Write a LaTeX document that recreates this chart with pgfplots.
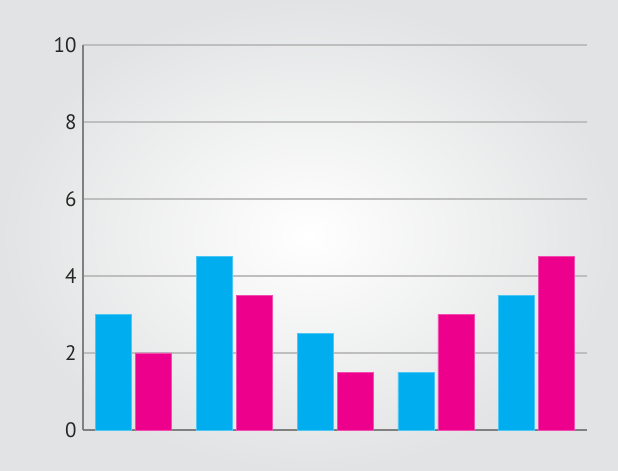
\documentclass[border=0pt]{standalone}
\usepackage{pgfplots}
\pgfplotsset{compat=1.18}
\usepackage{fontspec}
\setmainfont{PT Sans}
\definecolor{cy}{RGB}{0,174,239}
\definecolor{mg}{RGB}{236,0,140}
\definecolor{bgout}{RGB}{226,227,228}
\definecolor{gridc}{RGB}{190,190,190}
\definecolor{axc}{RGB}{128,128,128}
\begin{document}
\begin{tikzpicture}[x=1bp,y=1bp]
\shade[inner color=white, outer color=bgout] (-83,-41) rectangle (535,430);
\begin{axis}[
  at={(0,0)}, anchor=south west,
  width=504bp, height=385bp, scale only axis,
  xmin=0.5, xmax=5.5, ymin=0, ymax=10,
  ytick={0,2,4,6,8,10}, xtick=\empty,
  ymajorgrids, major grid style={gridc, line width=1.2bp},
  axis x line*=bottom, axis y line*=left,
  axis line style={axc, line width=1.8bp, -},
  major tick length=0pt,
  tick label style={font=\fontsize{21}{21}\selectfont, text=black!85},
  yticklabel style={xshift=-3bp},
  /pgf/number format/assume math mode=true,
  ybar=4bp, bar width=36bp,
  clip=false,
]
\addplot[fill=cy, draw=cy!70!white, line width=0.6bp] coordinates {(1,3) (2,4.5) (3,2.5) (4,1.5) (5,3.5)};
\addplot[fill=mg, draw=mg!70!white, line width=0.6bp] coordinates {(1,2) (2,3.5) (3,1.5) (4,3) (5,4.5)};
\end{axis}
\end{tikzpicture}
\end{document}
